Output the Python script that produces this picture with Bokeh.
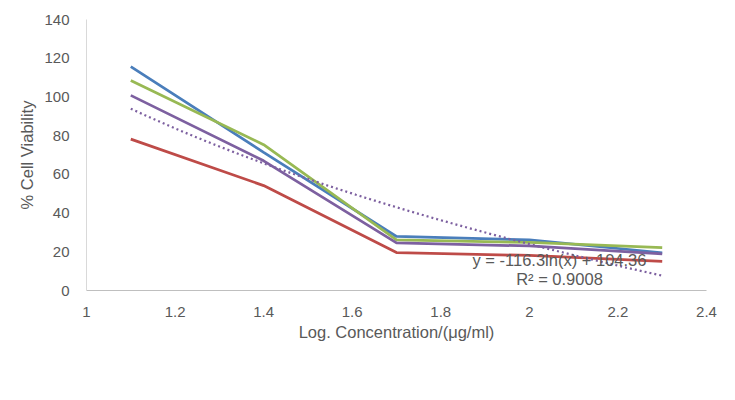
import numpy as np
from bokeh.plotting import figure
from bokeh.models import Legend, LegendItem, Label, ColumnDataSource
from bokeh.embed import file_html
from bokeh.resources import INLINE

# ---- data ----
log_conc = [1.1, 1.4, 1.7, 2.0, 2.3]
exp1 = [115.7, 71.4, 27.9, 26.2, 19.5]
exp2 = [78.2, 54.2, 19.6, 18.1, 15.0]
exp3 = [108.5, 75.3, 26.2, 24.8, 22.1]
mean = [100.8, 67.0, 24.6, 23.0, 18.9]
x_ticks = [1, 1.2, 1.4, 1.6, 1.8, 2, 2.2, 2.4]
y_ticks = [0, 20, 40, 60, 80, 100, 120, 140]
series_names = ["Exp. 1", "Exp. 2", "Exp. 3", "Mean", "Log. (Mean)"]
trend_text = "y = -116.3ln(x) + 104.36"
r2_text = "R² = 0.9008"

FONT = "Liberation Sans"
TXT = "#595959"
COLORS = ["#4a7ebb", "#be4b48", "#98b954", "#7d60a0", "#7d60a0"]
LW = 2.75

p = figure(frame_width=620, frame_height=271, output_backend="svg", toolbar_location=None,
           x_range=(1, 2.4), y_range=(0, 140),
           min_border_left=86, min_border_right=29, min_border_top=19, min_border_bottom=110)
p.outline_line_color = None
p.grid.visible = False
p.background_fill_color = "white"

# axes
p.xaxis.ticker = x_ticks
p.yaxis.ticker = y_ticks
p.xaxis.major_label_overrides = {1: "1", 2: "2"}
for ax in (p.xaxis, p.yaxis):
    ax.major_tick_line_color = None
    ax.minor_tick_line_color = None
    ax.major_label_text_font = FONT
    ax.major_label_text_font_size = "15px"
    ax.major_label_text_color = TXT
    ax.axis_label_text_font = FONT
    ax.axis_label_text_font_size = "16.5px"
    ax.axis_label_text_color = TXT
    ax.axis_label_text_font_style = "normal"
p.xaxis.axis_line_color = "#bfbfbf"
p.yaxis.axis_line_color = "#d9d9d9"
p.xaxis.axis_label = "Log. Concentration/(μg/ml)"
p.yaxis.axis_label = "% Cell Viability"
p.xaxis.major_label_standoff = 10
p.yaxis.major_label_standoff = 11
p.xaxis.axis_label_standoff = 3
p.yaxis.axis_label_standoff = 5

src = ColumnDataSource(dict(x=log_conc, e1=exp1, e2=exp2, e3=exp3, m=mean))
renderers = []
for col, c in zip(["e1", "e2", "e3", "m"], COLORS):
    renderers.append(p.line("x", col, source=src, line_color=c, line_width=LW))

# logarithmic trendline fitted to the mean (as the spreadsheet does)
a, b = np.polyfit(np.log(log_conc), mean, 1)
xt = np.linspace(log_conc[0], log_conc[-1], 60)
yt = a * np.log(xt) + b
renderers.append(p.line(xt, yt, line_color=COLORS[4], line_width=2.25, line_dash="2 3"))

p.add_layout(Label(x=2.068, y=15.5, text=trend_text, text_align="center", text_baseline="middle",
                   text_font=FONT, text_font_size="16.5px", text_color=TXT))
p.add_layout(Label(x=2.068, y=5.7, text=r2_text, text_align="center", text_baseline="middle",
                   text_font=FONT, text_font_size="16.5px", text_color=TXT))

legend = Legend(items=[LegendItem(label=n, renderers=[r]) for n, r in zip(series_names, renderers)],
                orientation="horizontal", location=(-5, -3),
                border_line_color=None, background_fill_alpha=0,
                padding=0, margin=0, spacing=23, label_standoff=4,
                glyph_width=40, glyph_height=16,
                label_text_font=FONT, label_text_font_size="16px", label_text_color=TXT)
p.add_layout(legend, "below")

open("out.html", "w").write(file_html(p, INLINE))
